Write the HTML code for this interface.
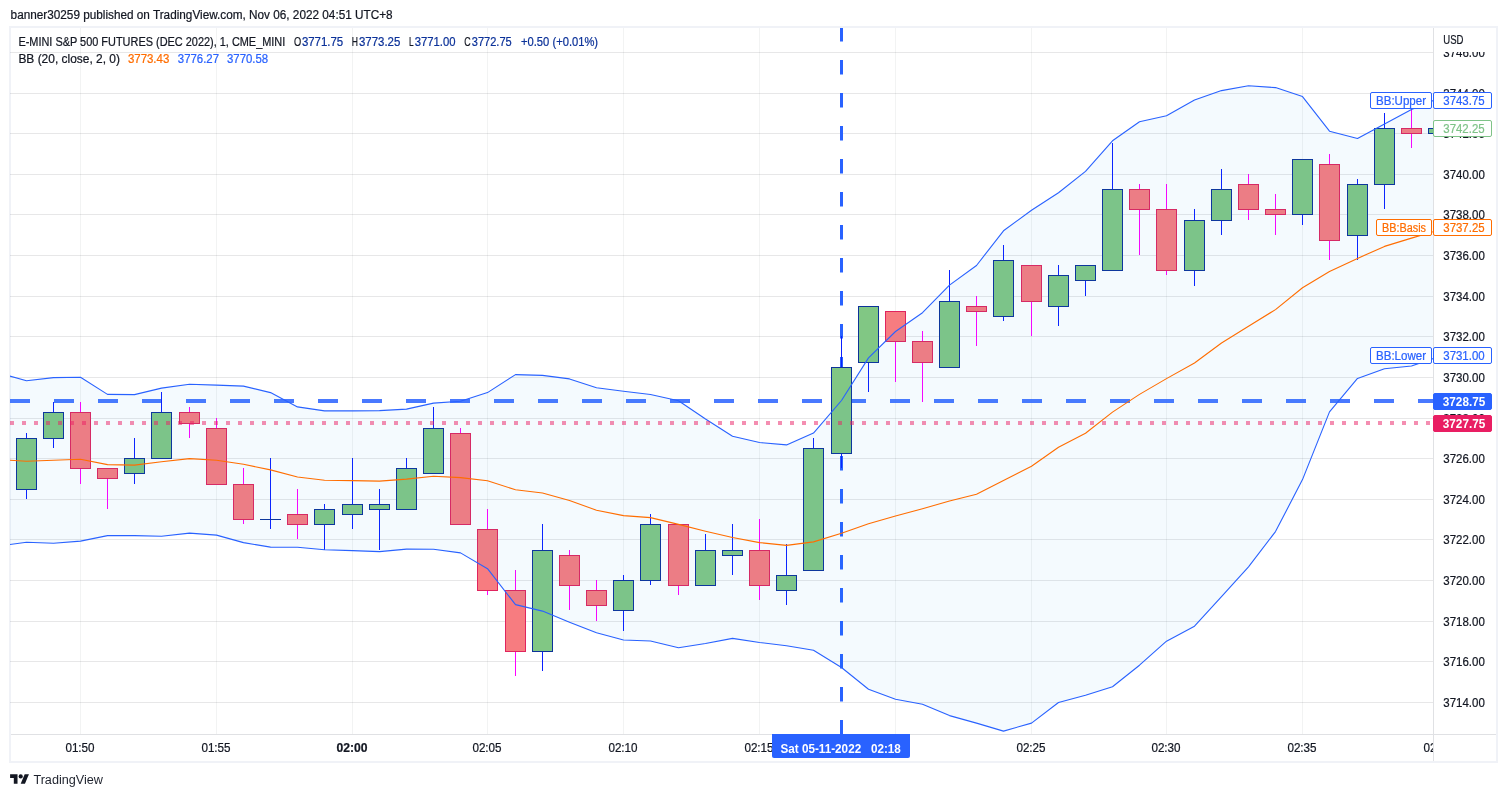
<!DOCTYPE html>
<html><head><meta charset="utf-8"><title>TradingView chart</title>
<style>html,body{margin:0;padding:0;background:#fff}body{width:1507px;height:797px;overflow:hidden}svg{display:block;will-change:transform}</style></head>
<body>
<svg width="1507" height="797" viewBox="0 0 1507 797" font-family='"Liberation Sans", sans-serif' font-size="12">
<defs><clipPath id="pane"><rect x="10" y="28" width="1423" height="706"/></clipPath><clipPath id="paxis"><rect x="1434" y="52" width="62" height="681"/></clipPath><clipPath id="taxis"><rect x="11" y="735" width="1422" height="26"/></clipPath></defs>
<rect width="1507" height="797" fill="#fff"/>
<rect x="10" y="27" width="1487" height="735" fill="#fff" stroke="#f0f2f7" stroke-width="2"/>
<g clip-path="url(#pane)" shape-rendering="crispEdges">
<rect x="10" y="702" width="1423" height="1" fill="rgba(42,46,57,0.115)"/>
<rect x="10" y="661" width="1423" height="1" fill="rgba(42,46,57,0.115)"/>
<rect x="10" y="621" width="1423" height="1" fill="rgba(42,46,57,0.115)"/>
<rect x="10" y="580" width="1423" height="1" fill="rgba(42,46,57,0.115)"/>
<rect x="10" y="539" width="1423" height="1" fill="rgba(42,46,57,0.115)"/>
<rect x="10" y="499" width="1423" height="1" fill="rgba(42,46,57,0.115)"/>
<rect x="10" y="458" width="1423" height="1" fill="rgba(42,46,57,0.115)"/>
<rect x="10" y="418" width="1423" height="1" fill="rgba(42,46,57,0.115)"/>
<rect x="10" y="377" width="1423" height="1" fill="rgba(42,46,57,0.115)"/>
<rect x="10" y="336" width="1423" height="1" fill="rgba(42,46,57,0.115)"/>
<rect x="10" y="296" width="1423" height="1" fill="rgba(42,46,57,0.115)"/>
<rect x="10" y="255" width="1423" height="1" fill="rgba(42,46,57,0.115)"/>
<rect x="10" y="214" width="1423" height="1" fill="rgba(42,46,57,0.115)"/>
<rect x="10" y="174" width="1423" height="1" fill="rgba(42,46,57,0.115)"/>
<rect x="10" y="133" width="1423" height="1" fill="rgba(42,46,57,0.115)"/>
<rect x="10" y="93" width="1423" height="1" fill="rgba(42,46,57,0.115)"/>
<rect x="10" y="52" width="1423" height="1" fill="rgba(42,46,57,0.115)"/>
<rect x="80" y="28" width="1" height="706" fill="rgba(42,46,57,0.06)"/>
<rect x="216" y="28" width="1" height="706" fill="rgba(42,46,57,0.06)"/>
<rect x="352" y="28" width="1" height="706" fill="rgba(42,46,57,0.06)"/>
<rect x="487" y="28" width="1" height="706" fill="rgba(42,46,57,0.06)"/>
<rect x="623" y="28" width="1" height="706" fill="rgba(42,46,57,0.06)"/>
<rect x="759" y="28" width="1" height="706" fill="rgba(42,46,57,0.06)"/>
<rect x="895" y="28" width="1" height="706" fill="rgba(42,46,57,0.06)"/>
<rect x="1031" y="28" width="1" height="706" fill="rgba(42,46,57,0.06)"/>
<rect x="1166" y="28" width="1" height="706" fill="rgba(42,46,57,0.06)"/>
<rect x="1302" y="28" width="1" height="706" fill="rgba(42,46,57,0.06)"/>
<rect x="1438" y="28" width="1" height="706" fill="rgba(42,46,57,0.06)"/>
</g>
<g clip-path="url(#pane)">
<line x1="10" x2="1433" y1="401.0" y2="401.0" stroke="#2962ff" stroke-opacity="0.85" stroke-width="4" stroke-dasharray="20 24"/>
<line x1="841.5" x2="841.5" y1="27" y2="734" stroke="#2962ff" stroke-width="3" stroke-dasharray="14.5 18.5"/>
</g>
<g clip-path="url(#pane)" shape-rendering="crispEdges">
<rect x="26" y="433" width="1" height="5" fill="#0a1fff"/>
<rect x="26" y="489" width="1" height="10" fill="#0a1fff"/>
<rect x="16.5" y="438.5" width="20" height="51" fill="#81c784" stroke="#0c3299" stroke-width="1"/>
<rect x="53" y="402" width="1" height="10" fill="#0a1fff"/>
<rect x="53" y="438" width="1" height="10" fill="#0a1fff"/>
<rect x="43.5" y="412.5" width="20" height="26" fill="#81c784" stroke="#0c3299" stroke-width="1"/>
<rect x="80" y="402" width="1" height="10" fill="#ff00ff"/>
<rect x="80" y="468" width="1" height="16" fill="#ff00ff"/>
<rect x="70.5" y="412.5" width="20" height="56" fill="#f77c80" stroke="#e0245e" stroke-width="1"/>
<rect x="107" y="478" width="1" height="31" fill="#ff00ff"/>
<rect x="97.5" y="468.5" width="20" height="10" fill="#f77c80" stroke="#e0245e" stroke-width="1"/>
<rect x="134" y="438" width="1" height="20" fill="#0a1fff"/>
<rect x="134" y="473" width="1" height="11" fill="#0a1fff"/>
<rect x="124.5" y="458.5" width="20" height="15" fill="#81c784" stroke="#0c3299" stroke-width="1"/>
<rect x="161" y="392" width="1" height="20" fill="#0a1fff"/>
<rect x="151.5" y="412.5" width="20" height="46" fill="#81c784" stroke="#0c3299" stroke-width="1"/>
<rect x="189" y="407" width="1" height="5" fill="#ff00ff"/>
<rect x="189" y="423" width="1" height="15" fill="#ff00ff"/>
<rect x="179.5" y="412.5" width="20" height="11" fill="#f77c80" stroke="#e0245e" stroke-width="1"/>
<rect x="216" y="418" width="1" height="10" fill="#ff00ff"/>
<rect x="206.5" y="428.5" width="20" height="56" fill="#f77c80" stroke="#e0245e" stroke-width="1"/>
<rect x="243" y="468" width="1" height="16" fill="#ff00ff"/>
<rect x="243" y="519" width="1" height="5" fill="#ff00ff"/>
<rect x="233.5" y="484.5" width="20" height="35" fill="#f77c80" stroke="#e0245e" stroke-width="1"/>
<rect x="270" y="458" width="1" height="61" fill="#0a1fff"/>
<rect x="270" y="519" width="1" height="10" fill="#0a1fff"/>
<rect x="260" y="519" width="21" height="1" fill="#0c3299"/>
<rect x="297" y="489" width="1" height="25" fill="#ff00ff"/>
<rect x="297" y="524" width="1" height="15" fill="#ff00ff"/>
<rect x="287.5" y="514.5" width="20" height="10" fill="#f77c80" stroke="#e0245e" stroke-width="1"/>
<rect x="324" y="504" width="1" height="5" fill="#0a1fff"/>
<rect x="324" y="524" width="1" height="26" fill="#0a1fff"/>
<rect x="314.5" y="509.5" width="20" height="15" fill="#81c784" stroke="#0c3299" stroke-width="1"/>
<rect x="352" y="458" width="1" height="46" fill="#0a1fff"/>
<rect x="352" y="514" width="1" height="15" fill="#0a1fff"/>
<rect x="342.5" y="504.5" width="20" height="10" fill="#81c784" stroke="#0c3299" stroke-width="1"/>
<rect x="379" y="489" width="1" height="15" fill="#0a1fff"/>
<rect x="379" y="509" width="1" height="41" fill="#0a1fff"/>
<rect x="369.5" y="504.5" width="20" height="5" fill="#81c784" stroke="#0c3299" stroke-width="1"/>
<rect x="406" y="458" width="1" height="10" fill="#0a1fff"/>
<rect x="396.5" y="468.5" width="20" height="41" fill="#81c784" stroke="#0c3299" stroke-width="1"/>
<rect x="433" y="407" width="1" height="21" fill="#0a1fff"/>
<rect x="423.5" y="428.5" width="20" height="45" fill="#81c784" stroke="#0c3299" stroke-width="1"/>
<rect x="460" y="428" width="1" height="5" fill="#ff00ff"/>
<rect x="450.5" y="433.5" width="20" height="91" fill="#f77c80" stroke="#e0245e" stroke-width="1"/>
<rect x="487" y="509" width="1" height="20" fill="#ff00ff"/>
<rect x="487" y="590" width="1" height="5" fill="#ff00ff"/>
<rect x="477.5" y="529.5" width="20" height="61" fill="#f77c80" stroke="#e0245e" stroke-width="1"/>
<rect x="515" y="570" width="1" height="20" fill="#ff00ff"/>
<rect x="515" y="651" width="1" height="25" fill="#ff00ff"/>
<rect x="505.5" y="590.5" width="20" height="61" fill="#f77c80" stroke="#e0245e" stroke-width="1"/>
<rect x="542" y="524" width="1" height="26" fill="#0a1fff"/>
<rect x="542" y="651" width="1" height="20" fill="#0a1fff"/>
<rect x="532.5" y="550.5" width="20" height="101" fill="#81c784" stroke="#0c3299" stroke-width="1"/>
<rect x="569" y="550" width="1" height="5" fill="#ff00ff"/>
<rect x="569" y="585" width="1" height="25" fill="#ff00ff"/>
<rect x="559.5" y="555.5" width="20" height="30" fill="#f77c80" stroke="#e0245e" stroke-width="1"/>
<rect x="596" y="580" width="1" height="10" fill="#ff00ff"/>
<rect x="596" y="605" width="1" height="16" fill="#ff00ff"/>
<rect x="586.5" y="590.5" width="20" height="15" fill="#f77c80" stroke="#e0245e" stroke-width="1"/>
<rect x="623" y="575" width="1" height="5" fill="#0a1fff"/>
<rect x="623" y="610" width="1" height="21" fill="#0a1fff"/>
<rect x="613.5" y="580.5" width="20" height="30" fill="#81c784" stroke="#0c3299" stroke-width="1"/>
<rect x="650" y="514" width="1" height="10" fill="#0a1fff"/>
<rect x="650" y="580" width="1" height="5" fill="#0a1fff"/>
<rect x="640.5" y="524.5" width="20" height="56" fill="#81c784" stroke="#0c3299" stroke-width="1"/>
<rect x="678" y="585" width="1" height="10" fill="#ff00ff"/>
<rect x="668.5" y="524.5" width="20" height="61" fill="#f77c80" stroke="#e0245e" stroke-width="1"/>
<rect x="705" y="534" width="1" height="16" fill="#0a1fff"/>
<rect x="695.5" y="550.5" width="20" height="35" fill="#81c784" stroke="#0c3299" stroke-width="1"/>
<rect x="732" y="524" width="1" height="26" fill="#0a1fff"/>
<rect x="732" y="555" width="1" height="20" fill="#0a1fff"/>
<rect x="722.5" y="550.5" width="20" height="5" fill="#81c784" stroke="#0c3299" stroke-width="1"/>
<rect x="759" y="519" width="1" height="31" fill="#ff00ff"/>
<rect x="759" y="585" width="1" height="15" fill="#ff00ff"/>
<rect x="749.5" y="550.5" width="20" height="35" fill="#f77c80" stroke="#e0245e" stroke-width="1"/>
<rect x="786" y="544" width="1" height="31" fill="#0a1fff"/>
<rect x="786" y="590" width="1" height="15" fill="#0a1fff"/>
<rect x="776.5" y="575.5" width="20" height="15" fill="#81c784" stroke="#0c3299" stroke-width="1"/>
<rect x="813" y="438" width="1" height="10" fill="#0a1fff"/>
<rect x="803.5" y="448.5" width="20" height="122" fill="#81c784" stroke="#0c3299" stroke-width="1"/>
<rect x="841" y="336" width="1" height="31" fill="#0a1fff"/>
<rect x="841" y="453" width="1" height="15" fill="#0a1fff"/>
<rect x="831.5" y="367.5" width="20" height="86" fill="#81c784" stroke="#0c3299" stroke-width="1"/>
<rect x="868" y="362" width="1" height="30" fill="#0a1fff"/>
<rect x="858.5" y="306.5" width="20" height="56" fill="#81c784" stroke="#0c3299" stroke-width="1"/>
<rect x="895" y="341" width="1" height="41" fill="#ff00ff"/>
<rect x="885.5" y="311.5" width="20" height="30" fill="#f77c80" stroke="#e0245e" stroke-width="1"/>
<rect x="922" y="331" width="1" height="10" fill="#ff00ff"/>
<rect x="922" y="362" width="1" height="40" fill="#ff00ff"/>
<rect x="912.5" y="341.5" width="20" height="21" fill="#f77c80" stroke="#e0245e" stroke-width="1"/>
<rect x="949" y="270" width="1" height="31" fill="#0a1fff"/>
<rect x="939.5" y="301.5" width="20" height="66" fill="#81c784" stroke="#0c3299" stroke-width="1"/>
<rect x="976" y="296" width="1" height="10" fill="#ff00ff"/>
<rect x="976" y="311" width="1" height="35" fill="#ff00ff"/>
<rect x="966.5" y="306.5" width="20" height="5" fill="#f77c80" stroke="#e0245e" stroke-width="1"/>
<rect x="1003" y="245" width="1" height="15" fill="#0a1fff"/>
<rect x="1003" y="316" width="1" height="5" fill="#0a1fff"/>
<rect x="993.5" y="260.5" width="20" height="56" fill="#81c784" stroke="#0c3299" stroke-width="1"/>
<rect x="1031" y="301" width="1" height="35" fill="#ff00ff"/>
<rect x="1021.5" y="265.5" width="20" height="36" fill="#f77c80" stroke="#e0245e" stroke-width="1"/>
<rect x="1058" y="265" width="1" height="10" fill="#0a1fff"/>
<rect x="1058" y="306" width="1" height="20" fill="#0a1fff"/>
<rect x="1048.5" y="275.5" width="20" height="31" fill="#81c784" stroke="#0c3299" stroke-width="1"/>
<rect x="1085" y="280" width="1" height="16" fill="#0a1fff"/>
<rect x="1075.5" y="265.5" width="20" height="15" fill="#81c784" stroke="#0c3299" stroke-width="1"/>
<rect x="1112" y="143" width="1" height="46" fill="#0a1fff"/>
<rect x="1102.5" y="189.5" width="20" height="81" fill="#81c784" stroke="#0c3299" stroke-width="1"/>
<rect x="1139" y="184" width="1" height="5" fill="#ff00ff"/>
<rect x="1139" y="209" width="1" height="46" fill="#ff00ff"/>
<rect x="1129.5" y="189.5" width="20" height="20" fill="#f77c80" stroke="#e0245e" stroke-width="1"/>
<rect x="1166" y="184" width="1" height="25" fill="#ff00ff"/>
<rect x="1166" y="270" width="1" height="5" fill="#ff00ff"/>
<rect x="1156.5" y="209.5" width="20" height="61" fill="#f77c80" stroke="#e0245e" stroke-width="1"/>
<rect x="1194" y="209" width="1" height="11" fill="#0a1fff"/>
<rect x="1194" y="270" width="1" height="16" fill="#0a1fff"/>
<rect x="1184.5" y="220.5" width="20" height="50" fill="#81c784" stroke="#0c3299" stroke-width="1"/>
<rect x="1221" y="169" width="1" height="20" fill="#0a1fff"/>
<rect x="1221" y="220" width="1" height="15" fill="#0a1fff"/>
<rect x="1211.5" y="189.5" width="20" height="31" fill="#81c784" stroke="#0c3299" stroke-width="1"/>
<rect x="1248" y="174" width="1" height="10" fill="#ff00ff"/>
<rect x="1248" y="209" width="1" height="11" fill="#ff00ff"/>
<rect x="1238.5" y="184.5" width="20" height="25" fill="#f77c80" stroke="#e0245e" stroke-width="1"/>
<rect x="1275" y="194" width="1" height="15" fill="#ff00ff"/>
<rect x="1275" y="214" width="1" height="21" fill="#ff00ff"/>
<rect x="1265.5" y="209.5" width="20" height="5" fill="#f77c80" stroke="#e0245e" stroke-width="1"/>
<rect x="1302" y="214" width="1" height="11" fill="#0a1fff"/>
<rect x="1292.5" y="159.5" width="20" height="55" fill="#81c784" stroke="#0c3299" stroke-width="1"/>
<rect x="1329" y="154" width="1" height="10" fill="#ff00ff"/>
<rect x="1329" y="240" width="1" height="20" fill="#ff00ff"/>
<rect x="1319.5" y="164.5" width="20" height="76" fill="#f77c80" stroke="#e0245e" stroke-width="1"/>
<rect x="1357" y="179" width="1" height="5" fill="#0a1fff"/>
<rect x="1357" y="235" width="1" height="25" fill="#0a1fff"/>
<rect x="1347.5" y="184.5" width="20" height="51" fill="#81c784" stroke="#0c3299" stroke-width="1"/>
<rect x="1384" y="113" width="1" height="15" fill="#0a1fff"/>
<rect x="1384" y="184" width="1" height="25" fill="#0a1fff"/>
<rect x="1374.5" y="128.5" width="20" height="56" fill="#81c784" stroke="#0c3299" stroke-width="1"/>
<rect x="1411" y="108" width="1" height="20" fill="#ff00ff"/>
<rect x="1411" y="133" width="1" height="15" fill="#ff00ff"/>
<rect x="1401.5" y="128.5" width="20" height="5" fill="#f77c80" stroke="#e0245e" stroke-width="1"/>
<rect x="1428.5" y="128.5" width="20" height="5" fill="#81c784" stroke="#0c3299" stroke-width="1"/>
</g>
<g clip-path="url(#pane)" fill="none" stroke-linejoin="round">
<polygon points="-0.5,373.2 26.5,380.8 53.5,377.6 80.5,377.3 107.5,394.4 134.5,394.6 161.5,388.1 189.5,384.3 216.5,385.1 243.5,386.1 270.5,392.6 297.5,406.9 324.5,410.9 352.5,410.9 379.5,410.6 406.5,409.1 433.5,403.1 460.5,401.2 487.5,392.6 515.5,374.6 542.5,375.4 569.5,378.9 596.5,387.7 623.5,391.2 650.5,394.5 678.5,400.7 705.5,419.0 732.5,436.3 759.5,442.5 786.5,444.9 813.5,433.1 841.5,400.5 868.5,357.9 895.5,331.5 922.5,312.7 949.5,285.1 976.5,265.5 1003.5,230.8 1031.5,210.3 1058.5,192.7 1085.5,171.4 1112.5,140.8 1139.5,121.7 1166.5,115.7 1194.5,100.1 1221.5,90.6 1248.5,85.8 1275.5,87.6 1302.5,96.6 1329.5,131.2 1357.5,138.5 1384.5,124.0 1411.5,109.4 1438.5,98.3 1438.5,356.8 1411.5,366.0 1384.5,368.8 1357.5,378.4 1329.5,411.9 1302.5,479.6 1275.5,531.6 1248.5,566.8 1221.5,596.6 1194.5,626.2 1166.5,641.2 1139.5,665.2 1112.5,686.8 1085.5,695.3 1058.5,702.5 1031.5,723.1 1003.5,731.1 976.5,723.1 949.5,715.6 922.5,704.3 895.5,699.3 868.5,689.3 841.5,667.5 813.5,650.3 786.5,645.8 759.5,642.5 732.5,638.4 705.5,643.5 678.5,647.8 650.5,641.0 623.5,640.0 596.5,632.7 569.5,622.2 542.5,611.1 515.5,604.6 487.5,568.7 460.5,552.9 433.5,549.3 406.5,549.1 379.5,551.6 352.5,550.6 324.5,549.8 297.5,547.2 270.5,547.1 243.5,542.6 216.5,535.1 189.5,533.1 161.5,536.3 134.5,535.6 107.5,535.6 80.5,541.1 53.5,543.3 26.5,542.3 -0.5,545.8" fill="#2196f3" fill-opacity="0.05" stroke="none"/>
<polyline points="-0.5,459.6 26.5,461.3 53.5,460.3 80.5,459.3 107.5,464.6 134.5,465.1 161.5,461.8 189.5,458.6 216.5,460.3 243.5,464.3 270.5,469.9 297.5,477.0 324.5,480.3 352.5,480.6 379.5,481.1 406.5,479.1 433.5,476.3 460.5,477.6 487.5,480.7 515.5,489.8 542.5,493.0 569.5,500.5 596.5,510.2 623.5,515.6 650.5,517.6 678.5,524.4 705.5,531.2 732.5,537.5 759.5,542.6 786.5,545.4 813.5,541.9 841.5,533.3 868.5,523.8 895.5,516.0 922.5,508.8 949.5,501.0 976.5,494.2 1003.5,480.6 1031.5,466.3 1058.5,447.3 1085.5,433.2 1112.5,412.1 1139.5,394.4 1166.5,378.6 1194.5,363.0 1221.5,343.0 1248.5,326.2 1275.5,309.6 1302.5,287.8 1329.5,271.5 1357.5,258.4 1384.5,246.4 1411.5,238.1 1438.5,230.1" stroke="#ff6d00" stroke-width="1.1"/>
<polyline points="-0.5,373.2 26.5,380.8 53.5,377.6 80.5,377.3 107.5,394.4 134.5,394.6 161.5,388.1 189.5,384.3 216.5,385.1 243.5,386.1 270.5,392.6 297.5,406.9 324.5,410.9 352.5,410.9 379.5,410.6 406.5,409.1 433.5,403.1 460.5,401.2 487.5,392.6 515.5,374.6 542.5,375.4 569.5,378.9 596.5,387.7 623.5,391.2 650.5,394.5 678.5,400.7 705.5,419.0 732.5,436.3 759.5,442.5 786.5,444.9 813.5,433.1 841.5,400.5 868.5,357.9 895.5,331.5 922.5,312.7 949.5,285.1 976.5,265.5 1003.5,230.8 1031.5,210.3 1058.5,192.7 1085.5,171.4 1112.5,140.8 1139.5,121.7 1166.5,115.7 1194.5,100.1 1221.5,90.6 1248.5,85.8 1275.5,87.6 1302.5,96.6 1329.5,131.2 1357.5,138.5 1384.5,124.0 1411.5,109.4 1438.5,98.3" stroke="#2962ff" stroke-width="1.1"/>
<polyline points="-0.5,545.8 26.5,542.3 53.5,543.3 80.5,541.1 107.5,535.6 134.5,535.6 161.5,536.3 189.5,533.1 216.5,535.1 243.5,542.6 270.5,547.1 297.5,547.2 324.5,549.8 352.5,550.6 379.5,551.6 406.5,549.1 433.5,549.3 460.5,552.9 487.5,568.7 515.5,604.6 542.5,611.1 569.5,622.2 596.5,632.7 623.5,640.0 650.5,641.0 678.5,647.8 705.5,643.5 732.5,638.4 759.5,642.5 786.5,645.8 813.5,650.3 841.5,667.5 868.5,689.3 895.5,699.3 922.5,704.3 949.5,715.6 976.5,723.1 1003.5,731.1 1031.5,723.1 1058.5,702.5 1085.5,695.3 1112.5,686.8 1139.5,665.2 1166.5,641.2 1194.5,626.2 1221.5,596.6 1248.5,566.8 1275.5,531.6 1302.5,479.6 1329.5,411.9 1357.5,378.4 1384.5,368.8 1411.5,366.0 1438.5,356.8" stroke="#2962ff" stroke-width="1.1"/>
<line x1="10" x2="1433" y1="423" y2="423" stroke="#e91e63" stroke-opacity="0.5" stroke-width="4" stroke-dasharray="4 8"/>
</g>
<g shape-rendering="crispEdges">
<rect x="1433" y="28" width="1" height="733" fill="#e0e1e4"/>
<rect x="11" y="734" width="1485" height="1" fill="#e0e1e4"/>
</g>
<g stroke="#131722" stroke-width="0.22" clip-path="url(#paxis)" fill="#131722">
<text x="1443.3" y="706.9" textLength="41.5" lengthAdjust="spacingAndGlyphs">3714.00</text>
<text x="1443.3" y="665.9" textLength="41.5" lengthAdjust="spacingAndGlyphs">3716.00</text>
<text x="1443.3" y="625.9" textLength="41.5" lengthAdjust="spacingAndGlyphs">3718.00</text>
<text x="1443.3" y="584.9" textLength="41.5" lengthAdjust="spacingAndGlyphs">3720.00</text>
<text x="1443.3" y="543.9" textLength="41.5" lengthAdjust="spacingAndGlyphs">3722.00</text>
<text x="1443.3" y="503.9" textLength="41.5" lengthAdjust="spacingAndGlyphs">3724.00</text>
<text x="1443.3" y="462.9" textLength="41.5" lengthAdjust="spacingAndGlyphs">3726.00</text>
<text x="1443.3" y="422.9" textLength="41.5" lengthAdjust="spacingAndGlyphs">3728.00</text>
<text x="1443.3" y="381.9" textLength="41.5" lengthAdjust="spacingAndGlyphs">3730.00</text>
<text x="1443.3" y="340.9" textLength="41.5" lengthAdjust="spacingAndGlyphs">3732.00</text>
<text x="1443.3" y="300.9" textLength="41.5" lengthAdjust="spacingAndGlyphs">3734.00</text>
<text x="1443.3" y="259.9" textLength="41.5" lengthAdjust="spacingAndGlyphs">3736.00</text>
<text x="1443.3" y="218.9" textLength="41.5" lengthAdjust="spacingAndGlyphs">3738.00</text>
<text x="1443.3" y="178.9" textLength="41.5" lengthAdjust="spacingAndGlyphs">3740.00</text>
<text x="1443.3" y="137.9" textLength="41.5" lengthAdjust="spacingAndGlyphs">3742.00</text>
<text x="1443.3" y="97.9" textLength="41.5" lengthAdjust="spacingAndGlyphs">3744.00</text>
<text x="1443.3" y="56.9" textLength="41.5" lengthAdjust="spacingAndGlyphs">3746.00</text>
</g>
<text stroke="#131722" stroke-width="0.22" x="1443.3" y="44.4" fill="#131722" textLength="20.2" lengthAdjust="spacingAndGlyphs">USD</text>
<g stroke="#131722" stroke-width="0.22" clip-path="url(#taxis)" fill="#131722" text-anchor="middle">
<text x="80.0" y="752" textLength="29.2" lengthAdjust="spacingAndGlyphs">01:50</text>
<text x="216.0" y="752" textLength="29.2" lengthAdjust="spacingAndGlyphs">01:55</text>
<text x="352.0" y="752" font-weight="bold" textLength="31" lengthAdjust="spacingAndGlyphs">02:00</text>
<text x="487.0" y="752" textLength="29.2" lengthAdjust="spacingAndGlyphs">02:05</text>
<text x="623.0" y="752" textLength="29.2" lengthAdjust="spacingAndGlyphs">02:10</text>
<text x="759.0" y="752" textLength="29.2" lengthAdjust="spacingAndGlyphs">02:15</text>
<text x="895.0" y="752" textLength="29.2" lengthAdjust="spacingAndGlyphs">02:20</text>
<text x="1031.0" y="752" textLength="29.2" lengthAdjust="spacingAndGlyphs">02:25</text>
<text x="1166.0" y="752" textLength="29.2" lengthAdjust="spacingAndGlyphs">02:30</text>
<text x="1302.0" y="752" textLength="29.2" lengthAdjust="spacingAndGlyphs">02:35</text>
<text x="1438.0" y="752" textLength="29.2" lengthAdjust="spacingAndGlyphs">02:40</text>
</g>
<rect x="1370.5" y="92.5" width="61" height="16" rx="1.5" fill="#fff" stroke="#2962ff" stroke-width="1"/>
<text stroke="#2962ff" stroke-width="0.22" x="1376" y="104.7" fill="#2962ff" textLength="50" lengthAdjust="spacingAndGlyphs">BB:Upper</text>
<rect x="1433.5" y="92.5" width="58" height="16" rx="1.5" fill="#fff" stroke="#2962ff" stroke-width="1"/>
<text stroke="#2962ff" stroke-width="0.22" x="1443.3" y="104.7" fill="#2962ff" textLength="41.3" lengthAdjust="spacingAndGlyphs">3743.75</text>
<rect x="1433.5" y="120.5" width="58" height="16" rx="1.5" fill="#fff" stroke="#7fc388" stroke-width="1"/>
<text stroke="#7fc388" stroke-width="0.22" x="1443.3" y="132.7" fill="#7fc388" textLength="41.3" lengthAdjust="spacingAndGlyphs">3742.25</text>
<rect x="1376.5" y="219.5" width="55" height="16" rx="1.5" fill="#fff" stroke="#ff6d00" stroke-width="1"/>
<text stroke="#ff6d00" stroke-width="0.22" x="1382" y="231.7" fill="#ff6d00" textLength="44" lengthAdjust="spacingAndGlyphs">BB:Basis</text>
<rect x="1433.5" y="219.5" width="58" height="16" rx="1.5" fill="#fff" stroke="#ff6d00" stroke-width="1"/>
<text stroke="#ff6d00" stroke-width="0.22" x="1443.3" y="231.7" fill="#ff6d00" textLength="41.3" lengthAdjust="spacingAndGlyphs">3737.25</text>
<rect x="1370.5" y="347.5" width="61" height="16" rx="1.5" fill="#fff" stroke="#2962ff" stroke-width="1"/>
<text stroke="#2962ff" stroke-width="0.22" x="1376" y="359.7" fill="#2962ff" textLength="50" lengthAdjust="spacingAndGlyphs">BB:Lower</text>
<rect x="1433.5" y="347.5" width="58" height="16" rx="1.5" fill="#fff" stroke="#2962ff" stroke-width="1"/>
<text stroke="#2962ff" stroke-width="0.22" x="1443.3" y="359.7" fill="#2962ff" textLength="41.3" lengthAdjust="spacingAndGlyphs">3731.00</text>
<rect x="1433.5" y="393.5" width="58" height="16" rx="1.5" fill="#2962ff" stroke="#2962ff" stroke-width="1"/>
<text x="1442.8" y="405.7" fill="#fff" font-weight="bold" textLength="42.5" lengthAdjust="spacingAndGlyphs">3728.75</text>
<rect x="1433.5" y="415.5" width="58" height="16" rx="1.5" fill="#e91e63" stroke="#e91e63" stroke-width="1"/>
<text x="1442.8" y="427.7" fill="#fff" font-weight="bold" textLength="42.5" lengthAdjust="spacingAndGlyphs">3727.75</text>
<path d="M772 734H910V756a2 2 0 0 1-2 2H774a2 2 0 0 1-2-2Z" fill="#2962ff"/>
<text x="780.5" y="752.6" fill="#fff" font-weight="bold" textLength="120.3" lengthAdjust="spacingAndGlyphs" style="white-space:pre">Sat 05-11-2022   02:18</text>
<text stroke="#131722" stroke-width="0.22" x="10.6" y="18.8" fill="#131722" textLength="382" lengthAdjust="spacingAndGlyphs">banner30259 published on TradingView.com, Nov 06, 2022 04:51 UTC+8</text>
<text stroke="#131722" stroke-width="0.22" x="18.4" y="45.9" fill="#131722" textLength="266.9" lengthAdjust="spacingAndGlyphs">E-MINI S&amp;P 500 FUTURES (DEC 2022), 1, CME_MINI</text>
<text stroke="#131722" stroke-width="0.22" x="294" y="45.9" fill="#131722" textLength="7.2" lengthAdjust="spacingAndGlyphs">O</text>
<text stroke="#0c3299" stroke-width="0.22" x="301.9" y="45.9" fill="#0c3299" textLength="41.3" lengthAdjust="spacingAndGlyphs">3771.75</text>
<text stroke="#131722" stroke-width="0.22" x="351.8" y="45.9" fill="#131722" textLength="6.2" lengthAdjust="spacingAndGlyphs">H</text>
<text stroke="#0c3299" stroke-width="0.22" x="359" y="45.9" fill="#0c3299" textLength="41.3" lengthAdjust="spacingAndGlyphs">3773.25</text>
<text stroke="#131722" stroke-width="0.22" x="409" y="45.9" fill="#131722" textLength="4.6" lengthAdjust="spacingAndGlyphs">L</text>
<text stroke="#0c3299" stroke-width="0.22" x="414.7" y="45.9" fill="#0c3299" textLength="40.8" lengthAdjust="spacingAndGlyphs">3771.00</text>
<text stroke="#131722" stroke-width="0.22" x="464.3" y="45.9" fill="#131722" textLength="6.4" lengthAdjust="spacingAndGlyphs">C</text>
<text stroke="#0c3299" stroke-width="0.22" x="471.8" y="45.9" fill="#0c3299" textLength="39.9" lengthAdjust="spacingAndGlyphs">3772.75</text>
<text stroke="#0c3299" stroke-width="0.22" x="521" y="45.9" fill="#0c3299" textLength="77.1" lengthAdjust="spacingAndGlyphs">+0.50 (+0.01%)</text>
<text stroke="#131722" stroke-width="0.22" x="18.4" y="62.8" fill="#131722" textLength="101.5" lengthAdjust="spacingAndGlyphs">BB (20, close, 2, 0)</text>
<text stroke="#ff6d00" stroke-width="0.22" x="127.9" y="62.8" fill="#ff6d00" textLength="41.4" lengthAdjust="spacingAndGlyphs">3773.43</text>
<text stroke="#2962ff" stroke-width="0.22" x="177.8" y="62.8" fill="#2962ff" textLength="41.2" lengthAdjust="spacingAndGlyphs">3776.27</text>
<text stroke="#2962ff" stroke-width="0.22" x="227" y="62.8" fill="#2962ff" textLength="41.2" lengthAdjust="spacingAndGlyphs">3770.58</text>
<g transform="translate(10.1,772.2) scale(0.53)" fill="#131722"><path d="M14 22H7V11H0V4h14v18z"/><circle cx="20" cy="8" r="4"/><path d="M28 22h-8l7.5-18h8L28 22z"/></g>
<text x="33.4" y="783.5" fill="#1e222d" font-size="12.5" textLength="69.6" lengthAdjust="spacingAndGlyphs">TradingView</text>
</svg>
</body></html>
